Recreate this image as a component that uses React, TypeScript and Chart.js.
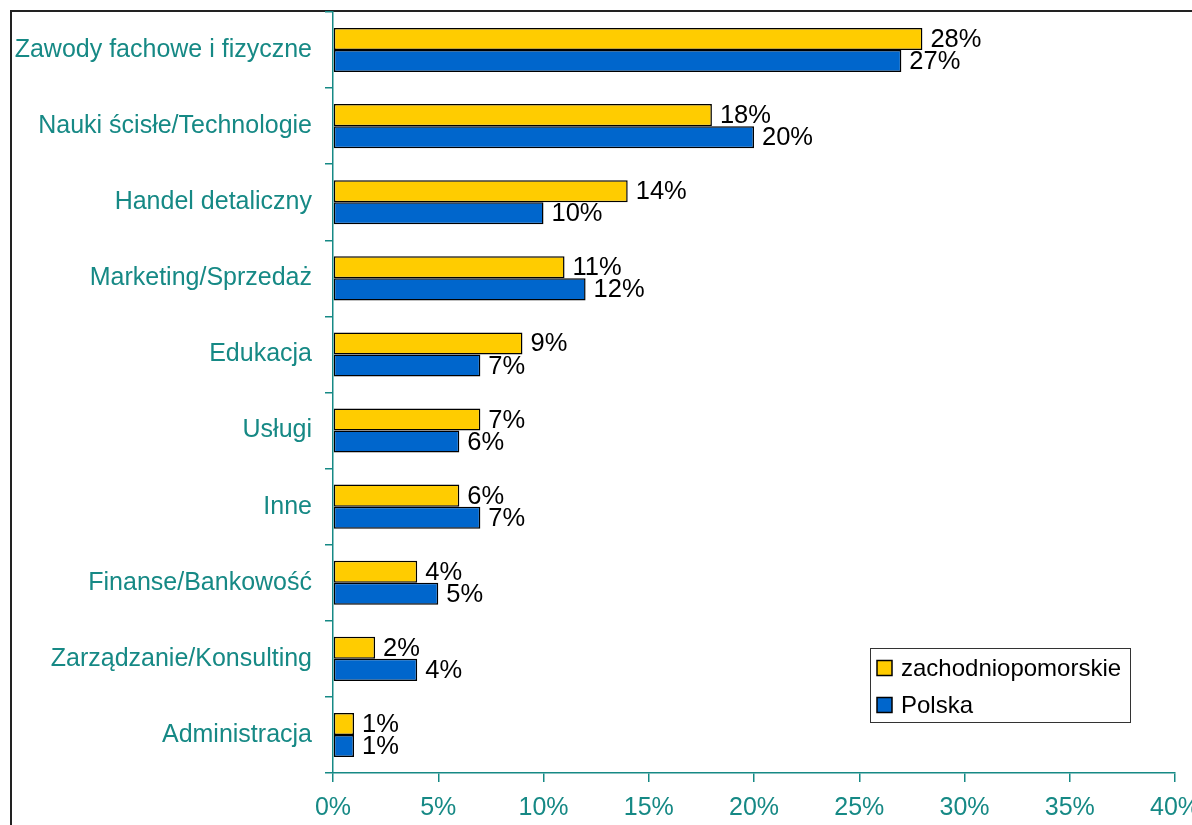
import React, { useEffect, useRef } from "react";
import { Chart, registerables } from "chart.js";

Chart.register(...registerables);

const categories = [
  "Zawody fachowe i fizyczne",
  "Nauki ścisłe/Technologie",
  "Handel detaliczny",
  "Marketing/Sprzedaż",
  "Edukacja",
  "Usługi",
  "Inne",
  "Finanse/Bankowość",
  "Zarządzanie/Konsulting",
  "Administracja",
];
const zachodniopomorskie = [28, 18, 14, 11, 9, 7, 6, 4, 2, 1];
const polska = [27, 20, 10, 12, 7, 6, 7, 5, 4, 1];
const seriesNames = ["zachodniopomorskie", "Polska"];
const xTickMax = 40;
const xTickStep = 5;

const FONT = "'Liberation Sans', Arial, sans-serif";
const TEAL = "#168985";
const YELLOW = "#FFCC00";
const BLUE = "#0066CC";

const framePlugin = {
  id: "frame",
  beforeDraw(chart: any) {
    const ctx = chart.ctx;
    ctx.save();
    ctx.fillStyle = "#ffffff";
    ctx.fillRect(0, 0, chart.width, chart.height);
    ctx.strokeStyle = "#222222";
    ctx.lineWidth = 2;
    ctx.strokeRect(11, 11, chart.width + 20, chart.height + 20);
    ctx.restore();
  },
};

const valueLabelPlugin = {
  id: "valueLabels",
  afterDatasetsDraw(chart: any) {
    const ctx = chart.ctx;
    ctx.save();
    ctx.font = `25.5px ${FONT}`;
    ctx.fillStyle = "#000000";
    ctx.textAlign = "left";
    ctx.textBaseline = "middle";
    chart.data.datasets.forEach((ds: any, di: number) => {
      const meta = chart.getDatasetMeta(di);
      meta.data.forEach((el: any, i: number) => {
        ctx.fillText(`${ds.data[i]}%`, el.x + 8, el.y + 1);
      });
    });
    ctx.restore();
  },
};

const legendPlugin = {
  id: "customLegend",
  afterDraw(chart: any) {
    const ctx = chart.ctx;
    ctx.save();
    const bx = 870.5, by = 648.5, bw = 260, bh = 74;
    ctx.fillStyle = "#ffffff";
    ctx.fillRect(bx, by, bw, bh);
    ctx.strokeStyle = "#333333";
    ctx.lineWidth = 1;
    ctx.strokeRect(bx, by, bw, bh);
    ctx.font = `24px ${FONT}`;
    ctx.textBaseline = "middle";
    ctx.textAlign = "left";
    chart.data.datasets.forEach((ds: any, i: number) => {
      const cy = 668 + i * 37;
      ctx.fillStyle = ds.backgroundColor;
      ctx.fillRect(877, cy - 7.5, 15, 15);
      ctx.strokeStyle = "#000000";
      ctx.lineWidth = 1.5;
      ctx.strokeRect(877, cy - 7.5, 15, 15);
      ctx.fillStyle = "#000000";
      ctx.fillText(ds.label, 901, cy + 1);
    });
    ctx.restore();
  },
};

export default function App() {
  const canvasRef = useRef<HTMLCanvasElement | null>(null);

  useEffect(() => {
    if (!canvasRef.current) return;
    const chart = new Chart(canvasRef.current, {
      type: "bar",
      data: {
        labels: categories,
        datasets: [
          {
            label: seriesNames[0],
            data: zachodniopomorskie,
            backgroundColor: YELLOW,
            borderColor: "#000000",
            borderWidth: 1.5,
            borderSkipped: false,
            categoryPercentage: 0.58,
            barPercentage: 1.0,
          },
          {
            label: seriesNames[1],
            data: polska,
            backgroundColor: BLUE,
            borderColor: "#000000",
            borderWidth: 1.5,
            borderSkipped: false,
            categoryPercentage: 0.58,
            barPercentage: 1.0,
          },
        ],
      },
      options: {
        indexAxis: "y",
        responsive: false,
        animation: false,
        devicePixelRatio: 1,
        layout: { padding: { top: 12, right: 17, bottom: 0, left: 0 } },
        plugins: {
          legend: { display: false },
          tooltip: { enabled: false },
          title: { display: false },
        },
        scales: {
          x: {
            min: 0,
            max: xTickMax,
            ticks: {
              stepSize: xTickStep,
              callback: (v: any) => `${v}%`,
              color: TEAL,
              font: { size: 25, family: FONT },
              padding: 11,
              maxRotation: 0,
            },
            grid: {
              drawOnChartArea: false,
              drawTicks: true,
              tickLength: 9,
              color: TEAL,
              lineWidth: 1.5,
            },
            border: { color: TEAL, width: 1.5 },
            afterFit(scale: any) {
              scale.height = 52;
              scale.paddingLeft = 0;
              scale.paddingRight = 0;
            },
          },
          y: {
            ticks: {
              color: TEAL,
              font: { size: 25, family: FONT },
              padding: 13,
            },
            grid: {
              offset: true,
              drawOnChartArea: false,
              drawTicks: true,
              tickLength: 8,
              color: TEAL,
              lineWidth: 1.5,
            },
            border: { color: TEAL, width: 1.5 },
            afterFit(scale: any) {
              scale.width = 333;
              scale.paddingTop = 0;
              scale.paddingBottom = 0;
            },
          },
        },
      } as any,
      plugins: [framePlugin, valueLabelPlugin, legendPlugin],
    });
    return () => chart.destroy();
  }, []);

  return (
    <div style={{ position: "absolute", left: 0, top: 0, width: 1192, height: 825, overflow: "hidden" }}>
      <canvas ref={canvasRef} width={1192} height={825} style={{ display: "block" }} />
    </div>
  );
}
